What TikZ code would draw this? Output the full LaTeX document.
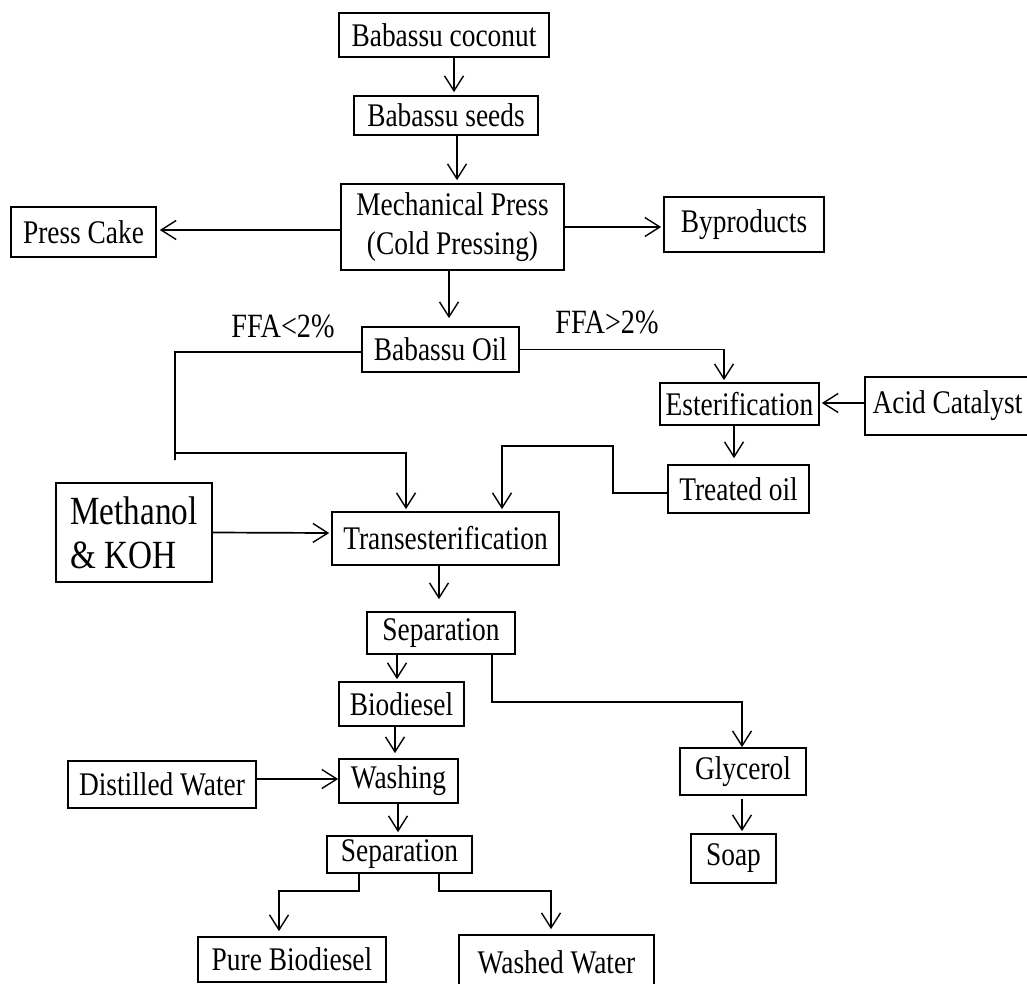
\documentclass[tikz,border=0pt]{standalone}
\usepackage{fontspec}
\setmainfont{Liberation Serif}[FakeStretch=0.83]
\usetikzlibrary{arrows.meta,calc}
\begin{document}
\begin{tikzpicture}[x=1pt,y=-1pt,
  box/.style={draw, line width=1.7pt, inner sep=0pt, align=center, font=\fontsize{33}{39}\selectfont},
  bigbox/.style={box, align=left, font=\fontsize{40}{44}\selectfont},
  arr/.style={line width=1.7pt, -{Straight Barb[length=15pt,width=19pt,line width=1.4pt]}},
  lbl/.style={inner sep=0pt, font=\fontsize{34}{38}\selectfont}]
\clip (0,0) rectangle (1027,984);
\fill[white] (0,0) rectangle (1027,984);
% nodes
\node[box, minimum width=210pt, minimum height=44pt] (coconut) at (444,35) {Babassu coconut};
\node[box, minimum width=184pt, minimum height=39pt] (seeds) at (446,115.5) {Babassu seeds};
\node[box, minimum width=223pt, minimum height=86pt] (mech) at (452.5,227) {Mechanical Press\\(Cold Pressing)};
\node[box, minimum width=145pt, minimum height=50pt] (cake) at (83.5,232) {Press Cake};
\node[box, minimum width=160pt, minimum height=55pt] (byprod) at (744,224.5) {Byproducts};
\node[box, minimum width=157pt, minimum height=45pt] (oil) at (440.5,349.5) {Babassu Oil};
\node[box, minimum width=159pt, minimum height=42pt] (ester) at (739.5,404) {Esterification};
\node[box, minimum width=165pt, minimum height=58pt] (acid) at (947.5,406) {Acid Catalyst};
\node[box, minimum width=141pt, minimum height=48pt] (treated) at (738.5,489) {Treated oil};
\node[box, minimum width=227pt, minimum height=53pt] (trans) at (445.5,538.5) {Transesterification};
\node[bigbox, minimum width=156pt, minimum height=99pt] (meth) at (134,532.5) {Methanol\\\& KOH};
\node[box, minimum width=148pt, minimum height=42pt] (sep1) at (441,633) {Separation};
\node[box, minimum width=125pt, minimum height=44pt] (bio) at (401.5,704) {Biodiesel};
\node[box, minimum width=126pt, minimum height=47pt] (gly) at (743,771.5) {Glycerol};
\node[box, minimum width=119pt, minimum height=44pt] (wash) at (398.5,781) {Washing};
\node[box, minimum width=145pt, minimum height=37pt] (sep2) at (399.5,854.5) {Separation};
\node[box, minimum width=85pt, minimum height=49pt] (soap) at (733.5,858.5) {Soap};
\node[box, minimum width=188pt, minimum height=47pt] (distw) at (162,784.5) {Distilled Water};
\node[box, minimum width=188pt, minimum height=45pt] (pure) at (292,959.5) {Pure Biodiesel};
\node[box, minimum width=195pt, minimum height=55pt] (washed) at (556.5,962.5) {Washed Water};
% labels
\node[lbl] (lowffa) at (283,326) {FFA<2\%};
\node[lbl] (highffa) at (607,322) {FFA>2\%};
% connectors
\draw[arr] ($(coconut.south)+(10,0)$) -- ($(seeds.north)+(8,-3)$);
\draw[arr] ($(seeds.south)+(11,0)$) -- ($(mech.north)+(4.5,-3)$);
\draw[arr] ($(mech.west)+(0,3)$) -- ($(cake.east)+(3,-2)$);
\draw[arr] (mech.east) -- ($(byprod.west)+(-2,2.5)$);
\draw[arr] ($(mech.south)+(-3.5,0)$) -- ($(oil.north)+(8.5,-8)$);
\draw[arr] ($(oil.west)+(0,2.5)$) -- (175,352) -- (175,460) -- (175,453) -| ($(trans.north)+(-39.5,-2)$);
\draw[arr] (oil.east) -| ($(ester.north)+(-15.5,-2)$);
\draw[arr] ($(acid.west)+(0,-3)$) -- ($(ester.east)+(2,-1)$);
\draw[arr] ($(ester.south)+(-5.5,0)$) -- ($(treated.north)+(-4.5,-6)$);
\draw[arr] ($(treated.west)+(0,4)$) -- (613,493) -- (613,446) -| ($(trans.north)+(56.5,-2)$);
\draw[arr] (meth.east) -- ($(trans.west)+(-2,-5.5)$);
\draw[arr] ($(trans.south)+(-6.5,0)$) -- ($(sep1.north)+(-2,-12)$);
\draw[arr] ($(sep1.south)+(-44,0)$) -- ($(bio.north)+(-4.5,-2)$);
\draw[arr] ($(sep1.south)+(51,0)$) |- ($(gly.north)+(-1,-45)$) -- ($(gly.north)+(-1,0)$);
\draw[arr] ($(bio.south)+(-6.5,0)$) -- ($(wash.north)+(-3.5,-5)$);
\draw[arr] ($(distw.east)+(0,-5.5)$) -- ($(wash.west)+(0,-2)$);
\draw[arr] ($(wash.south)+(-0.5,0)$) -- ($(sep2.north)+(-1.5,-3)$);
\draw[arr] ($(gly.south)+(-1,3)$) -- ($(soap.north)+(8.5,-2)$);
\draw[arr] ($(sep2.south)+(-40.5,0)$) |- ($(pure.north)+(-13,-45)$) -- ($(pure.north)+(-13,-5)$);
\draw[arr] ($(sep2.south)+(39.5,0)$) |- ($(washed.north)+(-5.5,-43)$) -- ($(washed.north)+(-5.5,-5)$);
\end{tikzpicture}
\end{document}
